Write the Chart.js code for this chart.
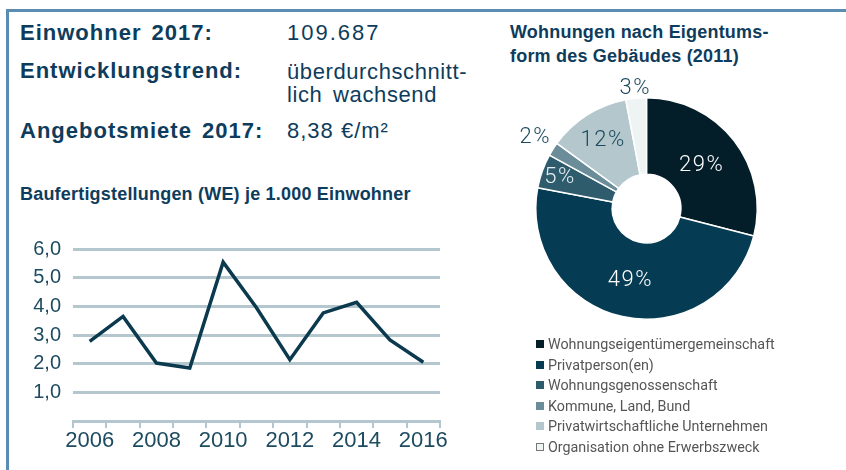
<!DOCTYPE html>
<html>
<head>
<meta charset="utf-8">
<script src="https://cdn.jsdelivr.net/npm/chart.js@4"></script>
<style>
  html, body { margin: 0; padding: 0; background: #fff; }
  body { width: 846px; height: 470px; position: relative; overflow: hidden; font-family: "Liberation Sans", Arial, sans-serif; }
  .frame { position: absolute; left: 6px; top: 9px; right: 0; bottom: 0; border-top: 3px solid #5b8db2; border-left: 3px solid #5b8db2; }
  .t { position: absolute; color: #0e3c5c; white-space: nowrap; }
  .lbl { font-weight: bold; font-size: 22px; letter-spacing: 1px; word-spacing: 3px; }
  .val { font-size: 22px; letter-spacing: 0.6px; word-spacing: 4px; line-height: 23px; }
  .sub { font-weight: bold; font-size: 18px; letter-spacing: 0.2px; line-height: 24px; }
  #lineBox { position: absolute; left: 0; top: 225px; width: 460px; height: 245px; }
  #pieBox { position: absolute; left: 505px; top: 70px; width: 285px; height: 270px; }
  #legend { position: absolute; left: 536px; top: 334px; font-family: Roboto, sans-serif; font-size: 14.3px; color: #555; }
  #legend div { height: 20.6px; line-height: 20.6px; white-space: nowrap; }
  #legend span { display: inline-block; width: 8px; height: 8px; margin-right: 4px; box-sizing: border-box; vertical-align: 1px; }
</style>
</head>
<body>
<div class="frame"></div>
<div class="t lbl" style="left:20px;top:20px">Einwohner 2017:</div>
<div class="t val" style="left:287px;top:21px;letter-spacing:2px">109.687</div>
<div class="t lbl" style="left:20px;top:58px">Entwicklungstrend:</div>
<div class="t val" style="left:287px;top:60px">überdurchschnitt-<br>lich wachsend</div>
<div class="t lbl" style="left:20px;top:118px">Angebotsmiete 2017:</div>
<div class="t val" style="left:287px;top:119px;letter-spacing:1px;word-spacing:0">8,38 €/m²</div>
<div class="t sub" style="left:20px;top:182px">Baufertigstellungen (WE) je 1.000 Einwohner</div>
<div class="t sub" style="left:510px;top:20px">Wohnungen nach Eigentums-<br>form des Gebäudes (2011)</div>
<div id="lineBox"><canvas id="lineChart"></canvas></div>
<div id="pieBox"><canvas id="pieChart"></canvas></div>
<div id="legend"></div>
<script>
const years = ['2006', '2007', '2008', '2009', '2010', '2011', '2012', '2013', '2014', '2015', '2016'];
const completions = [2.78, 3.65, 2.02, 1.85, 5.54, 3.95, 2.14, 3.77, 4.14, 2.83, 2.05];

const ownerTypes = ['Wohnungseigentümergemeinschaft', 'Privatperson(en)', 'Wohnungsgenossenschaft', 'Kommune, Land, Bund', 'Privatwirtschaftliche Unternehmen', 'Organisation ohne Erwerbszweck'];
const ownerShares = [29, 49, 5, 2, 12, 3];

const sliceColors = ['#031e29', '#063c53', '#2e5c6d', '#6b8d99', '#b3c7cd', '#eef3f4'];
const labelColors = ['#ffffff', '#ffffff', '#e6eef1', '#1c4a5c', '#1c4a5c', '#1c4a5c'];
const labelRadius = [0.63, 0.67, 0.83, 1.19, 0.73, 1.085];

const gridColor = '#b4c7ce';
const tickColor = '#1d4b60';

new Chart(document.getElementById('lineChart'), {
    type: 'line',
    data: { labels: years, datasets: [{ data: completions, borderColor: '#0b3a4f', borderWidth: 3.5, pointRadius: 0, tension: 0, fill: false }] },
    options: {
        responsive: true, maintainAspectRatio: false, animation: false,
        layout: { padding: { left: 0, right: 20, top: 22, bottom: 0 } },
        plugins: { legend: { display: false }, tooltip: { enabled: false } },
        scales: {
            x: {
                offset: true,
                grid: { offset: true, drawOnChartArea: false, tickLength: 7, color: gridColor, lineWidth: 2 },
                border: { display: true, color: gridColor, width: 2 },
                ticks: { autoSkip: false, maxRotation: 0, padding: 0, color: tickColor, font: { size: 22 },
                    callback: (v, i) => i % 2 === 0 ? years[i] : '' },
                afterFit: (s) => { s.height = 49; }
            },
            y: {
                min: 0, max: 6,
                grid: { drawTicks: false, color: gridColor, lineWidth: 3 },
                border: { display: false },
                ticks: { stepSize: 1, padding: 12, color: tickColor, font: { size: 20 },
                    callback: (v) => v === 0 ? '' : v.toFixed(1).replace('.', ',') },
                afterFit: (s) => { s.width = 73; }
            }
        }
    }
});

const sliceLabels = {
    id: 'sliceLabels',
    afterDatasetsDraw(chart) {
        const ctx = chart.ctx;
        const meta = chart.getDatasetMeta(0);
        ctx.save();
        ctx.font = '300 22px Roboto, sans-serif';
        ctx.letterSpacing = '1.5px';
        ctx.textAlign = 'center';
        ctx.textBaseline = 'middle';
        meta.data.forEach((arc, i) => {
            const p = arc.getProps(['x', 'y', 'startAngle', 'endAngle', 'outerRadius']);
            const a = (p.startAngle + p.endAngle) / 2;
            const r = p.outerRadius * labelRadius[i];
            ctx.fillStyle = labelColors[i];
            ctx.fillText(ownerShares[i] + '%', p.x + Math.cos(a) * r, p.y + Math.sin(a) * r);
        });
        ctx.restore();
    }
};

new Chart(document.getElementById('pieChart'), {
    type: 'doughnut',
    data: { labels: ownerTypes, datasets: [{ data: ownerShares, backgroundColor: sliceColors, borderColor: '#ffffff', borderWidth: 1.5 }] },
    options: {
        responsive: true, maintainAspectRatio: false, animation: false, cutout: '31%',
        layout: { padding: { left: 30, right: 32, top: 27, bottom: 20 } },
        plugins: { legend: { display: false }, tooltip: { enabled: false } }
    },
    plugins: [sliceLabels]
});

const legend = document.getElementById('legend');
ownerTypes.forEach((name, i) => {
    const row = document.createElement('div');
    const box = document.createElement('span');
    box.style.background = sliceColors[i];
    if (i === ownerTypes.length - 1) box.style.border = '1px solid #777';
    row.appendChild(box);
    row.appendChild(document.createTextNode(name));
    legend.appendChild(row);
});
</script>
</body>
</html>
